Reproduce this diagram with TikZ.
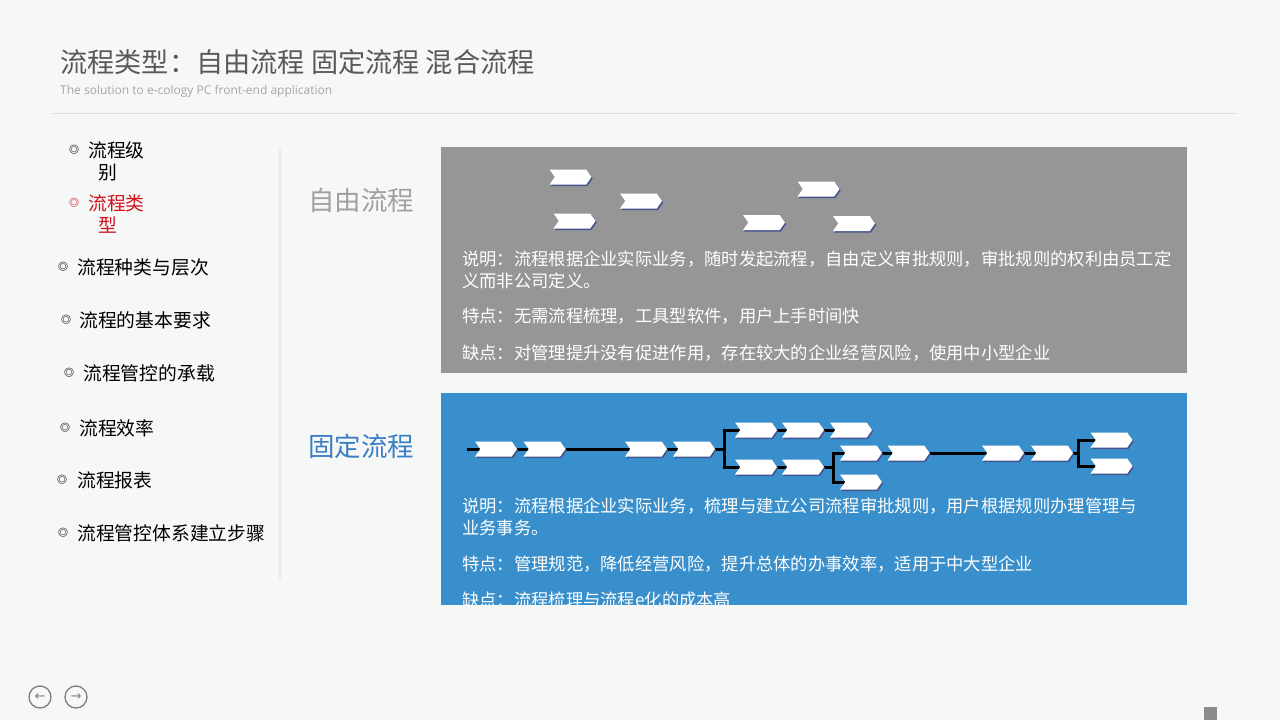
\documentclass[tikz,border=0pt]{standalone}
\usepackage{fontspec}
\setmainfont{Noto Sans CJK SC}
\newfontfamily\latinfont{Open Sans}
\newfontfamily\symfont{DejaVu Sans}
\usetikzlibrary{shapes.symbols,shadows}

\definecolor{pagebg}{HTML}{F6F7F7}
\definecolor{titlegray}{HTML}{595959}
\definecolor{subgray}{HTML}{A6A6A6}
\definecolor{rulegray}{HTML}{DCDCDC}
\definecolor{menured}{HTML}{D0121B}
\definecolor{freegray}{HTML}{969696}
\definecolor{freelabel}{HTML}{A0A0A0}
\definecolor{fixblue}{HTML}{388FCB}
\definecolor{fixlabel}{HTML}{3A7EC4}
\definecolor{chevshade}{HTML}{44558F}
\definecolor{navgray}{HTML}{7F7F7F}

\pgfdeclarelayer{bg}
\pgfdeclarelayer{edges}
\pgfsetlayers{bg,edges,main}

\begin{document}
\begin{tikzpicture}[x=1pt, y=-1pt,
    chev/.style={signal, signal from=west, signal to=east, signal pointer angle=110,
      fill=white, minimum width=42pt, minimum height=15pt, inner sep=0pt,
      drop shadow={shadow xshift=1.2pt, shadow yshift=-1.5pt, fill=chevshade, opacity=1}},
    flow/.style={line width=3pt, black},
    menu/.style={anchor=west, inner sep=0pt, align=left, font=\fontsize{18.8}{22}\selectfont},
    dot/.style={inner sep=0pt, font=\fontsize{10}{10}\selectfont\bfseries},
    boxtext/.style={anchor=west, inner sep=0pt, align=left, text=white, font=\fontsize{17.3}{22}\selectfont},
    kind/.style={anchor=west, inner sep=0pt, font=\fontsize{26.5}{30}\selectfont},
    navbtn/.style={circle, draw=navgray, line width=1.3pt, minimum size=22pt, inner sep=0pt,
      text=navgray, font=\symfont\fontsize{13}{13}\selectfont}]

    \begin{pgfonlayer}{bg}
    \fill[pagebg] (0,0) rectangle (1280,720);
    \fill[freegray] (441,147) rectangle (1187,373);
    \fill[fixblue] (441,393) rectangle (1187,605);
    \draw[rulegray, line width=1pt] (53,113) -- (1237,113);
    \draw[rulegray!60, line width=1.5pt] (280,148) -- (280,580);
    \fill[navgray!90] (1204,707) rectangle (1217,720);
    \end{pgfonlayer}
    \useasboundingbox (0,0) rectangle (1280,720);

    % title
    \node [anchor=west, inner sep=0pt, text=titlegray, font=\fontsize{27.2}{30}\selectfont] (title) at (60, 62) {流程类型：自由流程 固定流程 混合流程};
    \node [anchor=west, inner sep=0pt, text=subgray, font=\latinfont\fontsize{12}{14}\selectfont] (subtitle) at (60, 91) {The solution to e-cology PC front-end application};

    % menu
    \node [dot] (d1) at (74, 150) {◎};
    \node [menu] (m1) at (88, 161) {流程级\\\hspace*{10pt}别};
    \node [dot, text=menured] (d2) at (74, 203) {◎};
    \node [menu, text=menured] (m2) at (88, 214) {流程类\\\hspace*{10pt}型};
    \node [dot] (d3) at (63, 267) {◎};
    \node [menu] (m3) at (77, 267) {流程种类与层次};
    \node [dot] (d4) at (66, 320) {◎};
    \node [menu] (m4) at (79, 320) {流程的基本要求};
    \node [dot] (d5) at (69, 373) {◎};
    \node [menu] (m5) at (83, 373) {流程管控的承载};
    \node [dot] (d6) at (65, 428) {◎};
    \node [menu] (m6) at (79, 428) {流程效率};
    \node [dot] (d7) at (62, 480) {◎};
    \node [menu] (m7) at (77, 480) {流程报表};
    \node [dot] (d8) at (63, 533) {◎};
    \node [menu] (m8) at (77, 533) {流程管控体系建立步骤};

    % free flow
    \node [kind, text=freelabel] (free) at (308, 200) {自由流程};
    \node [chev] (g1) at (570.5, 177) {};
    \node [chev] (g2) at (641, 201) {};
    \node [chev] (g3) at (574.5, 221) {};
    \node [chev] (g4) at (818.5, 189) {};
    \node [chev] (g5) at (764, 222.5) {};
    \node [chev] (g6) at (854, 223.5) {};
    \node [boxtext] (f1) at (462, 270) {说明：流程根据企业实际业务，随时发起流程，自由定义审批规则，审批规则的权利由员工定\\义而非公司定义。};
    \node [boxtext] (f2) at (462, 316) {特点：无需流程梳理，工具型软件，用户上手时间快};
    \node [boxtext] (f3) at (462, 353) {缺点：对管理提升没有促进作用，存在较大的企业经营风险，使用中小型企业};

    % fixed flow
    \node [kind, text=fixlabel] (fixed) at (308, 446) {固定流程};
    \coordinate (s) at (467, 449);
    \node [chev] (A) at (496, 449) {};
    \node [chev] (B) at (544.5, 449) {};
    \node [chev] (C) at (646, 449) {};
    \node [chev] (D) at (694, 449) {};
    \coordinate (b1) at (724, 449);
    \node [chev] (E) at (756, 430) {};
    \node [chev] (G) at (803, 430) {};
    \node [chev] (I) at (851, 430) {};
    \node [chev] (F) at (756, 467) {};
    \node [chev] (H) at (803, 467) {};
    \coordinate (b2) at (833, 467);
    \node [chev] (J) at (861, 453) {};
    \node [chev] (K) at (861, 482) {};
    \node [chev] (L) at (908.5, 453) {};
    \node [chev] (M) at (1003, 453) {};
    \node [chev] (N) at (1052, 453) {};
    \coordinate (b3) at (1078, 453);
    \node [chev] (O) at (1111.5, 440) {};
    \node [chev] (P) at (1111.5, 466) {};

    \begin{pgfonlayer}{edges}
    \draw [flow] (s) to (A);
    \draw [flow] (A) to (B);
    \draw [flow] (B) to (C);
    \draw [flow] (C) to (D);
    \draw [flow] (D) to (b1);
    \draw [flow] (E) -| (b1) |- (F);
    \draw [flow] (E) to (G);
    \draw [flow] (G) to (I);
    \draw [flow] (F) to (H);
    \draw [flow] (H) to (b2);
    \draw [flow] (J) -| (b2) |- (K);
    \draw [flow] (J) to (L);
    \draw [flow] (L) to (M);
    \draw [flow] (M) to (N);
    \draw [flow] (N) to (b3);
    \draw [flow] (O) -| (b3) |- (P);
    \end{pgfonlayer}

    \begin{scope}
    \clip (441,393) rectangle (1187,605);
    \node [boxtext] (x1) at (462, 517) {说明：流程根据企业实际业务，梳理与建立公司流程审批规则，用户根据规则办理管理与\\业务事务。};
    \node [boxtext] (x2) at (462, 564) {特点：管理规范，降低经营风险，提升总体的办事效率，适用于中大型企业};
    \node [boxtext] (x3) at (462, 600) {缺点：流程梳理与流程e化的成本高};
    \end{scope}

    % navigation
    \node [navbtn] (prev) at (40, 697) {←};
    \node [navbtn] (next) at (76, 697) {→};
\end{tikzpicture}
\end{document}
